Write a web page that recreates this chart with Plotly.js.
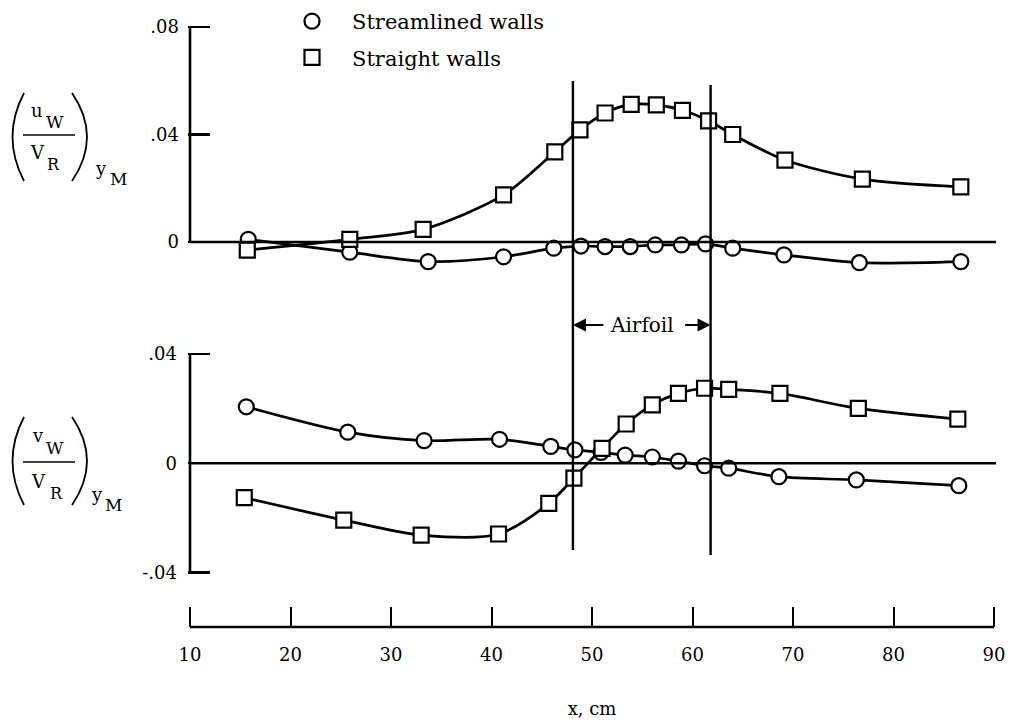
<!DOCTYPE html>
<html>
<head>
<meta charset="utf-8">
<script src="https://cdn.plot.ly/plotly-3.0.1.min.js"></script>
<style>html,body{margin:0;padding:0;background:#fff;}#chart{width:1012px;height:723px;}</style>
</head>
<body>
<div id="chart"></div>
<script>
// ---- data ----
// upper panel: (u_W / V_R) at y_M
const xUStream = [15.8, 25.9, 33.7, 41.2, 46.2, 48.9, 51.3, 53.8, 56.3, 58.9, 61.3, 64.0, 69.1, 76.6, 86.7];
const uStream  = [0.0010, -0.0038, -0.0073, -0.0055, -0.0023, -0.0015, -0.0017, -0.0017, -0.0011, -0.0011, -0.0007, -0.0023, -0.0048, -0.0077, -0.0073];
const xUStraight = [15.7, 25.9, 33.2, 41.2, 46.3, 48.8, 51.3, 53.9, 56.4, 59.0, 61.6, 64.0, 69.2, 76.9, 86.7];
const uStraight  = [-0.0030, 0.0010, 0.0047, 0.0175, 0.0335, 0.0417, 0.0480, 0.0512, 0.0510, 0.0490, 0.0451, 0.0400, 0.0305, 0.0234, 0.0205];
// lower panel: (v_W / V_R) at y_M
const xVStream = [15.6, 25.7, 33.3, 40.8, 45.9, 48.3, 50.9, 53.3, 56.0, 58.6, 61.2, 63.6, 68.6, 76.3, 86.5];
const vStream  = [0.0207, 0.0114, 0.0083, 0.0088, 0.0062, 0.0049, 0.0040, 0.0030, 0.0023, 0.0008, -0.0009, -0.0018, -0.0049, -0.0061, -0.0082];
const xVStraight = [15.4, 25.3, 33.0, 40.7, 45.7, 48.2, 51.0, 53.4, 56.0, 58.6, 61.2, 63.6, 68.7, 76.5, 86.4];
const vStraight  = [-0.0126, -0.0208, -0.0263, -0.0259, -0.0147, -0.0054, 0.0055, 0.0144, 0.0214, 0.0256, 0.0275, 0.0271, 0.0256, 0.0201, 0.0162];
// airfoil leading / trailing edge positions (x, cm)
const airfoilEdges = [48.1, 61.8];
const seriesNames = ['Streamlined walls', 'Straight walls'];
const xTicks = [10, 20, 30, 40, 50, 60, 70, 80, 90];
const uTickVals = [0, 0.04, 0.08];
const uTickText = ['0', '.04', '.08'];
const vTickVals = [-0.04, 0, 0.04];
const vTickText = ['-.04', '0', '.04'];

// ---- helpers ----
const W = 1012, H = 723;
const PX = p => p / W;
const PY = p => 1 - p / H;
const FONT = 'DejaVu Serif, Liberation Serif, serif';
const INK = '#000';

function series(x, y, sym, yaxis) {
  return {
    x: x, y: y, xaxis: 'x', yaxis: yaxis, type: 'scatter', mode: 'lines+markers',
    showlegend: false, cliponaxis: false,
    line: {color: INK, width: 2.7, shape: 'spline', smoothing: 0.8},
    marker: {symbol: sym, size: 15, color: '#fff', line: {color: INK, width: 2.2}}
  };
}
function legendItem(name, sym, group) {
  return {
    x: [null], y: [null], xaxis: 'x', yaxis: 'y', type: 'scatter', mode: 'markers',
    name: '\u00a0\u00a0\u00a0' + name, legendgroup: group, showlegend: true,
    marker: {symbol: sym, size: 15, color: '#fff', line: {color: INK, width: 2.2}}
  };
}

const traces = [
  series(xUStream, uStream, 'circle', 'y'),
  series(xUStraight, uStraight, 'square', 'y'),
  series(xVStream, vStream, 'circle', 'y2'),
  series(xVStraight, vStraight, 'square', 'y2'),
  legendItem(seriesNames[0], 'circle', 'a'),
  legendItem(seriesNames[1], 'square', 'b')
];

const shapes = [
  // upper panel axis line and zero line
  {type: 'line', xref: 'x', yref: 'y', x0: 10, x1: 10, y0: 0, y1: 0.08, line: {color: INK, width: 2.6}},
  {type: 'line', xref: 'x', yref: 'y', x0: 10, x1: 90.3, y0: 0, y1: 0, line: {color: INK, width: 2.4}},
  // lower panel axis line and zero line
  {type: 'line', xref: 'x', yref: 'y2', x0: 10, x1: 10, y0: -0.04, y1: 0.04, line: {color: INK, width: 2.6}},
  {type: 'line', xref: 'x', yref: 'y2', x0: 10, x1: 90.3, y0: 0, y1: 0, line: {color: INK, width: 2.4}},
  // airfoil edges
  {type: 'line', xref: 'x', yref: 'paper', x0: airfoilEdges[0], x1: airfoilEdges[0], y0: PY(550), y1: PY(81), line: {color: INK, width: 2.4}},
  {type: 'line', xref: 'x', yref: 'paper', x0: airfoilEdges[1], x1: airfoilEdges[1], y0: PY(555), y1: PY(85), line: {color: INK, width: 2.4}},
  // fraction bars
  {type: 'line', xref: 'paper', yref: 'paper', x0: PX(23), x1: PX(75), y0: PY(135), y1: PY(135), line: {color: INK, width: 1.6}},
  {type: 'line', xref: 'paper', yref: 'paper', x0: PX(23), x1: PX(75), y0: PY(462), y1: PY(462), line: {color: INK, width: 1.6}},
  // bottom x-axis line from 10 to 90
  {type: 'line', xref: 'x', yref: 'paper', x0: 10, x1: 90, y0: PY(627), y1: PY(627), line: {color: INK, width: 2.6}}
];
function paren(x0, yTop, yBot, cx) {
  const ym = (yTop + yBot) / 2;
  return {type: 'path', xref: 'paper', yref: 'paper',
    path: 'M ' + PX(x0) + ',' + PY(yTop) + ' Q ' + PX(cx) + ',' + PY(ym) + ' ' + PX(x0) + ',' + PY(yBot),
    line: {color: INK, width: 1.8}};
}
shapes.push(paren(24, 93, 181, 1), paren(72, 93, 181, 102), paren(24, 417, 505, 1), paren(72, 417, 505, 102));

function glyph(t, x, y, size) {
  return {xref: 'paper', yref: 'paper', x: PX(x), y: PY(y), xanchor: 'center', yanchor: 'middle',
          text: t, showarrow: false, font: {family: FONT, size: size, color: INK}};
}
const annotations = [
  // upper y-axis label: (u_W / V_R) y_M
  glyph('u', 37, 110, 18), glyph('W', 55, 122, 17),
  glyph('V', 37, 152, 18), glyph('R', 53, 165, 16),
  glyph('y', 101, 168, 18), glyph('M', 118, 179, 17),
  // lower y-axis label: (v_W / V_R) y_M
  glyph('v', 38, 435, 18), glyph('W', 55, 448, 17),
  glyph('V', 38, 481, 18), glyph('R', 56, 493, 16),
  glyph('y', 97, 494, 18), glyph('M', 113, 505, 17),
  // Airfoil label with arrows to both edges
  {xref: 'x', yref: 'paper', x: (airfoilEdges[0] + airfoilEdges[1]) / 2, y: PY(325), text: 'Airfoil', showarrow: false, font: {family: FONT, size: 20, color: INK}},
  {xref: 'x', yref: 'paper', x: airfoilEdges[0], y: PY(325), ax: 32, ay: 0, text: '', showarrow: true, arrowhead: 2, arrowsize: 1.3, arrowwidth: 2, arrowcolor: INK, standoff: 0},
  {xref: 'x', yref: 'paper', x: airfoilEdges[1], y: PY(325), ax: -27, ay: 0, text: '', showarrow: true, arrowhead: 2, arrowsize: 1.3, arrowwidth: 2, arrowcolor: INK, standoff: 0}
];

const layout = {
  width: W, height: H,
  margin: {l: 0, r: 0, t: 0, b: 0},
  paper_bgcolor: '#fff', plot_bgcolor: 'rgba(0,0,0,0)',
  font: {family: FONT, size: 18, color: INK},
  showlegend: true,
  legend: {x: PX(292), y: PY(1), xanchor: 'left', yanchor: 'top', bgcolor: 'rgba(0,0,0,0)',
           font: {family: FONT, size: 21, color: INK}, tracegroupgap: 6, itemwidth: 30},
  xaxis: {
    domain: [PX(187.99), PX(996.01)], range: [9.8, 90.2], anchor: 'free', position: PY(627),
    tickvals: xTicks, ticktext: xTicks.map(String), ticks: 'inside', ticklen: 20, tickwidth: 2, tickcolor: INK,
    showline: false, showgrid: false, zeroline: false,
    ticklabelstandoff: 15, tickfont: {family: FONT, size: 18, color: INK},
    title: {text: 'x, cm', standoff: 38, font: {family: FONT, size: 18, color: INK}}
  },
  yaxis: {
    domain: [PY(280), PY(22.97)], range: [-(280 - 242) / 2687.5, 0.0815], anchor: 'x',
    tickvals: uTickVals, ticktext: uTickText, ticks: 'inside', ticklen: 22, tickwidth: 2.4, tickcolor: INK,
    showline: false, showgrid: false, zeroline: false, ticklabelstandoff: 8,
    tickfont: {family: FONT, size: 18, color: INK}
  },
  yaxis2: {
    domain: [PY(580), PY(340)], range: [-(580 - 463.3) / 2730, (463.3 - 340) / 2730], anchor: 'x',
    tickvals: vTickVals, ticktext: vTickText, ticks: 'inside', ticklen: 22, tickwidth: 2.4, tickcolor: INK,
    showline: false, showgrid: false, zeroline: false, ticklabelstandoff: 10,
    tickfont: {family: FONT, size: 18, color: INK}
  },
  shapes: shapes,
  annotations: annotations
};

Plotly.newPlot('chart', traces, layout, {staticPlot: true, displayModeBar: false});
</script>
</body>
</html>
